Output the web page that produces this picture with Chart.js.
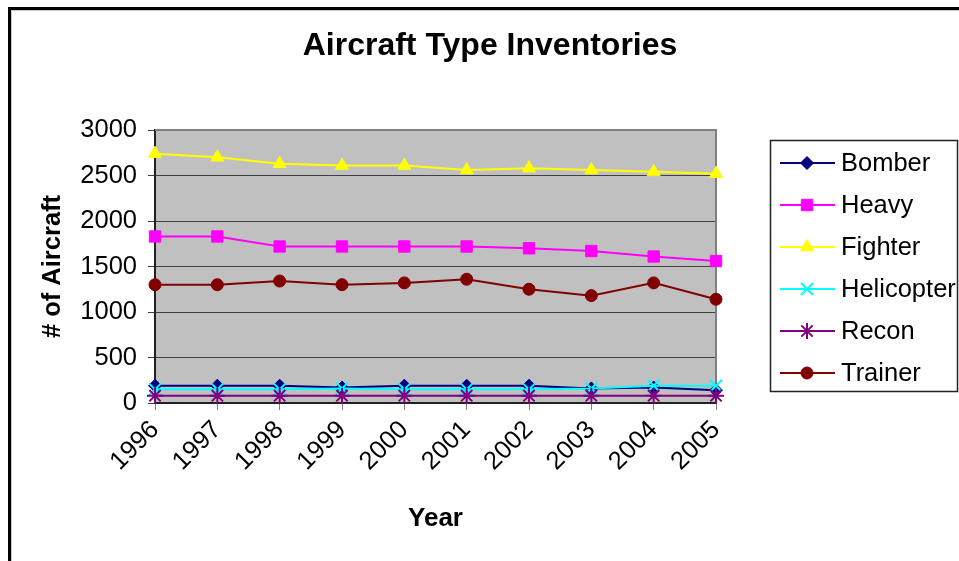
<!DOCTYPE html>
<html>
<head>
<meta charset="utf-8">
<script src="https://cdn.jsdelivr.net/npm/chart.js@4/dist/chart.umd.min.js"></script>
<style>
  html, body { margin: 0; padding: 0; background: #fff; overflow: hidden; }
  canvas { display: block; }
</style>
</head>
<body>
<canvas id="chart" width="959" height="561"></canvas>
<script>
// Inventory counts per aircraft type, 1996-2005
const years      = ['1996', '1997', '1998', '1999', '2000', '2001', '2002', '2003', '2004', '2005'];
const bomber     = [190, 190, 190, 170, 190, 190, 190, 160, 170, 140];
const heavy      = [1830, 1830, 1720, 1720, 1720, 1720, 1700, 1670, 1610, 1560];
const fighter    = [2740, 2700, 2630, 2610, 2610, 2560, 2580, 2560, 2540, 2520];
const helicopter = [150, 150, 150, 160, 150, 150, 150, 160, 190, 190];
const recon      = [80, 80, 80, 80, 80, 80, 80, 80, 80, 80];
const trainer    = [1300, 1300, 1340, 1300, 1320, 1360, 1250, 1180, 1320, 1140];

const seriesNames  = ['Bomber', 'Heavy', 'Fighter', 'Helicopter', 'Recon', 'Trainer'];
const seriesData   = [bomber, heavy, fighter, helicopter, recon, trainer];
const seriesColors = ['#000080', '#FF00FF', '#FFFF00', '#00FFFF', '#800080', '#800000'];
const markerStyles = ['rectRot', 'rect', 'triangle', 'crossRot', 'star', 'circle'];
const markerRadii  = [6.5, 8, 7.5, 8.5, 8, 6];
const markerWidths = [1, 1, 1, 2, 2, 1];

const yMin = 0, yMax = 3000, yStep = 500;
const chartTitle = 'Aircraft Type Inventories';
const xTitle = 'Year';
const yTitle = '# of Aircraft';

const FONT = "'Liberation Sans', Arial, sans-serif";
Chart.defaults.font.family = FONT;

// Grey plot background, outer frame lines and the plot border
const framePlugin = {
  id: 'frame',
  beforeDraw(chart) {
    const { ctx, chartArea: a } = chart;
    ctx.save();
    ctx.fillStyle = '#ffffff';
    ctx.fillRect(0, 0, chart.width, chart.height);
    // outer frame (top and left edges)
    ctx.fillStyle = '#000000';
    ctx.fillRect(8, 7, chart.width - 8, 3);
    ctx.fillRect(8, 7, 3, chart.height - 7);
    ctx.fillStyle = '#c8c8c8';
    ctx.fillRect(11, 10, chart.width - 11, 1);
    ctx.fillRect(11, 10, 1, chart.height - 10);
    // plot area
    ctx.fillStyle = '#C0C0C0';
    ctx.fillRect(a.left, a.top, a.right - a.left, a.bottom - a.top);
    ctx.restore();
  },
  beforeDatasetsDraw(chart) {
    const { ctx, chartArea: a } = chart;
    ctx.save();
    ctx.strokeStyle = '#808080';
    ctx.lineWidth = 2;
    ctx.beginPath();
    ctx.moveTo(a.left, a.top);
    ctx.lineTo(a.right, a.top);
    ctx.lineTo(a.right, a.bottom);
    ctx.stroke();
    ctx.restore();
  },
  afterDraw(chart) {
    const { ctx } = chart;
    ctx.save();
    ctx.fillStyle = '#000';
    ctx.font = 'bold 32px ' + FONT;
    ctx.textAlign = 'center';
    ctx.textBaseline = 'alphabetic';
    ctx.fillText(chartTitle, 490, 55);
    ctx.restore();
  }
};

// Boxed legend with line + marker samples
const boxLegendPlugin = {
  id: 'boxLegend',
  afterDraw(chart) {
    const { ctx } = chart;
    const box = { x: 770.5, y: 140.5, w: 187, h: 251 };
    ctx.save();
    ctx.strokeStyle = '#222';
    ctx.lineWidth = 1.5;
    ctx.strokeRect(box.x, box.y, box.w, box.h);
    ctx.font = '25.5px ' + FONT;
    ctx.textBaseline = 'middle';
    ctx.textAlign = 'left';
    chart.data.datasets.forEach((ds, i) => {
      const y = 163 + i * 42;
      ctx.strokeStyle = ds.borderColor;
      ctx.lineWidth = 2;
      ctx.beginPath();
      ctx.moveTo(780, y);
      ctx.lineTo(835, y);
      ctx.stroke();
      ctx.fillStyle = ds.backgroundColor;
      ctx.strokeStyle = ds.borderColor;
      ctx.lineWidth = ds.pointBorderWidth;
      Chart.helpers.drawPoint(ctx, { pointStyle: ds.pointStyle, radius: ds.pointRadius, rotation: 0, borderWidth: ds.pointBorderWidth }, 807, y);
      ctx.fillStyle = '#000';
      ctx.fillText(ds.label, 841, y + 1);
    });
    ctx.restore();
  }
};

const datasets = seriesNames.map((name, i) => ({
  label: name,
  data: seriesData[i],
  borderColor: seriesColors[i],
  backgroundColor: seriesColors[i],
  borderWidth: 2,
  pointStyle: markerStyles[i],
  pointRadius: markerRadii[i],
  pointHoverRadius: markerRadii[i],
  pointBorderWidth: markerWidths[i],
  pointBorderColor: seriesColors[i],
  pointBackgroundColor: seriesColors[i],
  tension: 0,
  fill: false,
  clip: false,
  order: seriesNames.length - i
}));

new Chart(document.getElementById('chart'), {
  type: 'line',
  data: { labels: years, datasets },
  plugins: [framePlugin, boxLegendPlugin],
  options: {
    responsive: false,
    animation: false,
    devicePixelRatio: 1,
    events: [],
    layout: { padding: { left: 0, right: 243, top: 130, bottom: 0 } },
    plugins: {
      legend: { display: false },
      title: { display: false },
      tooltip: { enabled: false }
    },
    scales: {
      x: {
        type: 'category',
        offset: false,
        ticks: {
          color: '#000',
          font: { size: 25.5 },
          minRotation: 45,
          maxRotation: 45,
          autoSkip: false,
          padding: 5
        },
        grid: {
          drawOnChartArea: false,
          drawTicks: true,
          tickLength: 7,
          color: '#808080',
          lineWidth: 1
        },
        border: { color: '#222', width: 2 },
        title: {
          display: true,
          text: xTitle,
          color: '#000',
          font: { size: 26, weight: 'bold' },
          padding: { top: 0, bottom: 27 }
        },
        afterFit(scale) { scale.height = 158; }
      },
      y: {
        min: yMin,
        max: yMax,
        ticks: {
          stepSize: yStep,
          color: '#000',
          font: { size: 25.5 },
          padding: 11,
          callback: (v) => String(v)
        },
        grid: {
          color: '#404040',
          lineWidth: 1,
          tickLength: 7,
          tickColor: '#404040'
        },
        border: { color: '#222', width: 2 },
        title: {
          display: true,
          text: yTitle,
          color: '#000',
          font: { size: 25.5, weight: 'bold' },
          padding: { top: 38, bottom: 0 }
        },
        afterFit(scale) { scale.width = 155; }
      }
    }
  }
});
</script>
</body>
</html>
